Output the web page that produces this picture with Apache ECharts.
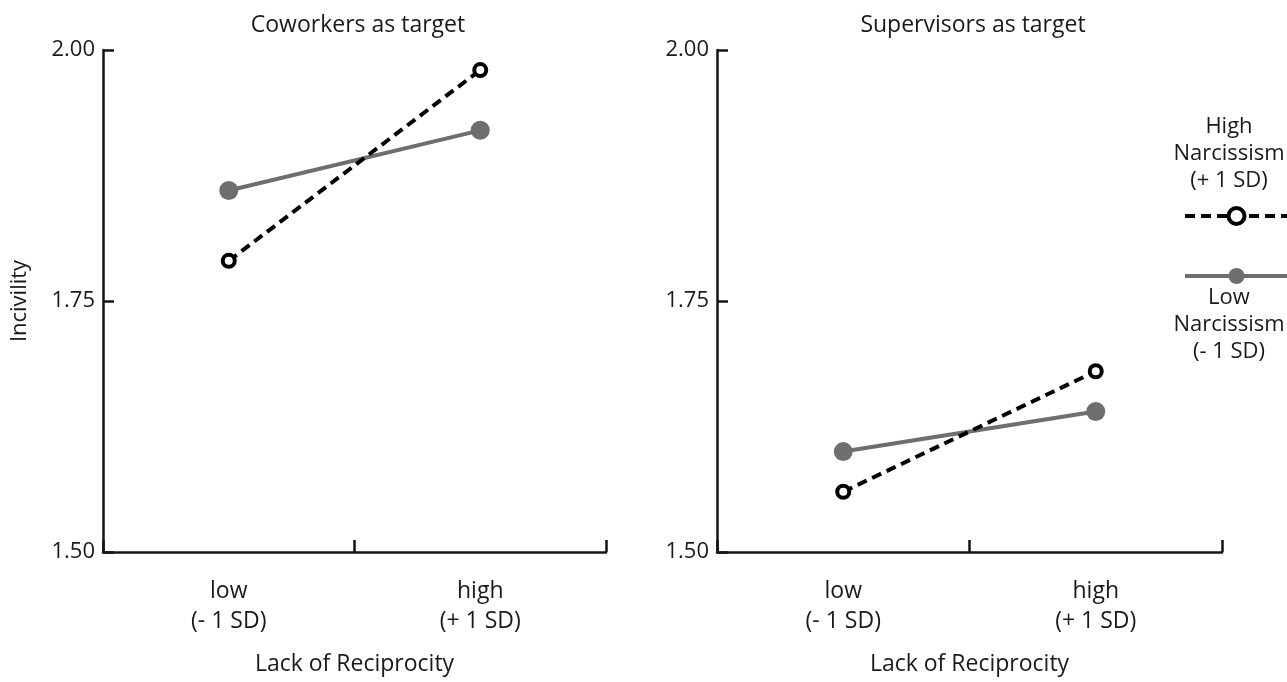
<!DOCTYPE html>
<html>
<head>
<meta charset="utf-8">
<script src="https://cdn.jsdelivr.net/npm/echarts@6/dist/echarts.min.js"></script>
<style>
html,body{margin:0;padding:0;background:#fff;}
#chart{width:1287px;height:682px;}
</style>
</head>
<body>
<div id="chart"></div>
<script>
const categories = ['low\n(- 1 SD)', 'high\n(+ 1 SD)'];
const panelTitles = ['Coworkers as target', 'Supervisors as target'];
const seriesNames = ['High Narcissism (+ 1 SD)', 'Low Narcissism (- 1 SD)'];
const coworkersHigh = [1.79, 1.98];
const coworkersLow = [1.86, 1.92];
const supervisorsHigh = [1.56, 1.68];
const supervisorsLow = [1.60, 1.64];
const yTicks = [1.50, 1.75, 2.00];

const FONT = '"Open Sans", "Noto Sans", sans-serif';
const TXT = '#1a1a1a';
const AX = '#151515';
const GRAY = '#6e6e6e';

function xAxis(gi) {
  return {
    type: 'category', gridIndex: gi, data: categories, boundaryGap: true,
    axisLine: {show: true, lineStyle: {color: AX, width: 2.5}},
    axisTick: {show: true, inside: true, alignWithLabel: false, interval: 0, length: 12, lineStyle: {color: AX, width: 2.5}},
    axisLabel: {color: TXT, fontFamily: FONT, fontSize: 23, lineHeight: 30, margin: 24},
    name: 'Lack of Reciprocity', nameLocation: 'middle', nameGap: 101,
    nameTextStyle: {color: TXT, fontFamily: FONT, fontSize: 23}
  };
}
function yAxis(gi, withName) {
  return {
    type: 'value', gridIndex: gi, min: yTicks[0], max: yTicks[yTicks.length-1], interval: 0.25,
    axisLine: {show: true, lineStyle: {color: AX, width: 2.5}},
    axisTick: {show: true, inside: true, length: 11, lineStyle: {color: AX, width: 2.5}},
    splitLine: {show: false},
    axisLabel: {color: TXT, fontFamily: FONT, fontSize: 22, margin: 8, formatter: v => v.toFixed(2)},
    name: withName ? 'Incivility' : '', nameLocation: 'middle', nameGap: 72,
    nameTextStyle: {color: TXT, fontFamily: FONT, fontSize: 22}
  };
}
function highSeries(gi, data) {
  return {
    name: seriesNames[0], type: 'line', xAxisIndex: gi, yAxisIndex: gi, data: data,
    symbol: 'circle', symbolSize: 12,
    lineStyle: {color: '#000', width: 4, type: [10, 6]},
    itemStyle: {color: '#fff', borderColor: '#000', borderWidth: 4},
    z: 3
  };
}
function lowSeries(gi, data) {
  return {
    name: seriesNames[1], type: 'line', xAxisIndex: gi, yAxisIndex: gi, data: data,
    symbol: 'circle', symbolSize: 19,
    lineStyle: {color: GRAY, width: 4},
    itemStyle: {color: GRAY},
    z: 2
  };
}

const chart = echarts.init(document.getElementById('chart'));
chart.setOption({
  animation: false,
  title: [
    {text: panelTitles[0], left: 353, top: 9, textAlign: 'center', textStyle: {color: TXT, fontFamily: FONT, fontSize: 23, fontWeight: 'normal'}},
    {text: panelTitles[1], left: 968, top: 9, textAlign: 'center', textStyle: {color: TXT, fontFamily: FONT, fontSize: 23, fontWeight: 'normal'}}
  ],
  grid: [
    {left: 103, top: 50, width: 503, height: 502},
    {left: 717, top: 50, width: 505, height: 502}
  ],
  xAxis: [xAxis(0), xAxis(1)],
  yAxis: [yAxis(0, true), yAxis(1, false)],
  legend: {
    orient: 'vertical', left: 1178, top: 201, itemWidth: 103, itemHeight: 20, itemGap: 40,
    data: [
      {name: seriesNames[0], itemStyle: {color: '#fff', borderColor: '#000', borderWidth: 4}, lineStyle: {color: '#000', width: 4, type: [10, 6]}},
      {name: seriesNames[1], itemStyle: {color: GRAY, borderWidth: 0}, lineStyle: {color: GRAY, width: 4}}
    ],
    formatter: () => '', selectedMode: false,
    textStyle: {fontSize: 1}
  },
  graphic: [
    {type: 'text', x: 1229, y: 113, style: {text: 'High\nNarcissism\n(+ 1 SD)', align: 'center', fill: TXT, font: '22px ' + FONT, lineHeight: 27}},
    {type: 'text', x: 1229, y: 284, style: {text: 'Low\nNarcissism\n(- 1 SD)', align: 'center', fill: TXT, font: '22px ' + FONT, lineHeight: 27}}
  ],
  series: [
    highSeries(0, coworkersHigh), lowSeries(0, coworkersLow),
    highSeries(1, supervisorsHigh), lowSeries(1, supervisorsLow)
  ]
});
</script>
</body>
</html>
